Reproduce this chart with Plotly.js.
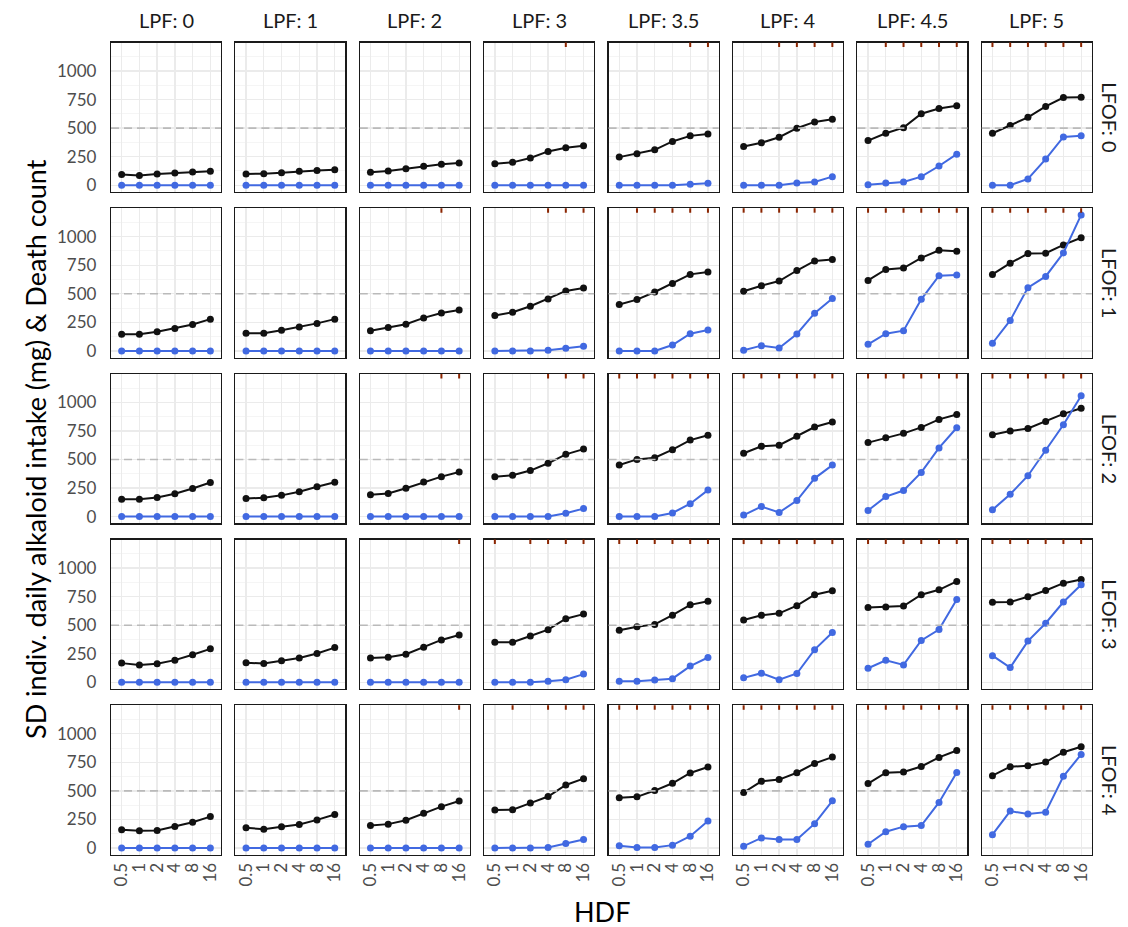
<!DOCTYPE html>
<html>
<head>
<meta charset="utf-8">
<script src="https://cdn.plot.ly/plotly-3.0.1.min.js"></script>
<style>html,body{margin:0;padding:0;background:#fff;}#chart{width:1128px;height:927px;}</style>
</head>
<body>
<div id="chart"></div>
<script>
// ---- Data ----
const HDF = ["0.5","1","2","4","8","16"];
const LPF = ["0","1","2","3","3.5","4","4.5","5"];
const LFOF = ["0","1","2","3","4"];
const REF_LINE = 500;

// SD individual daily alkaloid intake (black), one row of 6 HDF values per LPF column
const sdIntake_LFOF0 = [
  [93,84,99,107,116,122],
  [99,101,110,122,128,136],
  [113,125,145,165,183,194],
  [188,200,238,296,328,345],
  [246,275,310,383,432,449],
  [339,371,420,499,554,577],
  [391,455,504,626,672,696],
  [455,522,594,690,768,771]
];
const sdIntake_LFOF1 = [
  [145,145,168,197,232,278],
  [154,154,180,209,241,278],
  [177,206,234,289,332,359],
  [310,339,391,455,525,551],
  [406,449,516,591,670,690],
  [522,571,612,704,788,800],
  [617,713,725,814,881,872],
  [670,768,852,855,928,991]
];
const sdIntake_LFOF2 = [
  [151,151,168,200,246,299],
  [159,165,186,217,261,301],
  [191,202,249,302,350,390],
  [348,362,403,467,545,591],
  [452,501,516,586,670,713],
  [555,616,625,703,784,828],
  [648,691,729,781,851,894],
  [717,749,772,833,900,949]
];
const sdIntake_LFOF3 = [
  [168,151,162,194,241,293],
  [171,165,188,212,252,304],
  [212,220,246,307,371,414],
  [351,351,406,461,557,597],
  [455,486,507,588,678,710],
  [546,587,604,671,767,801],
  [654,659,668,767,810,883],
  [700,703,749,804,868,900]
];
const sdIntake_LFOF4 = [
  [159,151,154,188,226,275],
  [177,165,186,206,246,293],
  [197,209,243,304,362,412],
  [332,335,393,451,552,607],
  [439,448,503,567,657,709],
  [486,584,599,659,741,796],
  [564,659,665,714,793,854],
  [633,712,720,752,839,886]
];

// Death count (blue)
const deaths_LFOF0 = [
  [0,0,0,0,0,0],
  [0,0,0,0,0,0],
  [0,0,0,0,0,0],
  [0,0,0,0,0,0],
  [0,0,0,0,9,17],
  [0,0,0,20,29,75],
  [5,20,29,75,168,272],
  [0,0,55,229,423,432]
];
const deaths_LFOF1 = [
  [0,0,0,0,0,0],
  [0,0,0,0,0,0],
  [0,0,0,0,0,0],
  [0,0,0,6,23,41],
  [0,0,0,52,151,183],
  [5,46,26,148,330,458],
  [58,151,177,452,658,664],
  [67,267,554,652,858,1191]
];
const deaths_LFOF2 = [
  [0,0,0,0,0,0],
  [0,0,0,0,0,0],
  [0,0,0,0,0,0],
  [0,0,0,0,29,70],
  [0,0,0,32,113,232],
  [13,88,36,141,335,451],
  [54,175,228,387,601,778],
  [59,196,358,581,804,1059]
];
const deaths_LFOF3 = [
  [0,0,0,0,0,0],
  [0,0,0,0,0,0],
  [0,0,0,0,0,0],
  [0,0,0,9,23,72],
  [9,9,20,32,142,217],
  [39,80,22,77,286,436],
  [123,193,152,367,462,726],
  [233,129,361,517,703,854]
];
const deaths_LFOF4 = [
  [0,0,0,0,0,0],
  [0,0,0,0,0,0],
  [0,0,0,0,0,0],
  [0,0,0,4,39,74],
  [19,4,4,25,103,236],
  [16,88,74,74,213,413],
  [33,143,187,196,399,662],
  [117,323,297,314,628,819]
];

// Rug marks (HDF levels flagged at top of each panel)
const rug_LFOF0 = [[],[],[],["8"],["8","16"],["2","4","8","16"],["1","2","4","8","16"],["0.5","1","2","4","8","16"]];
const rug_LFOF1 = [[],[],["8"],["4","8","16"],["1","2","4","8","16"],["0.5","1","2","4","8","16"],["0.5","1","2","4","8","16"],["0.5","1","2","4","8","16"]];
const rug_LFOF2 = [[],[],["8","16"],["4","8","16"],["0.5","1","2","4","8","16"],["0.5","1","2","4","8","16"],["0.5","1","2","4","8","16"],["0.5","1","2","4","8","16"]];
const rug_LFOF3 = [[],[],["16"],["0.5","2","4","8","16"],["0.5","1","2","4","8","16"],["0.5","1","2","4","8","16"],["0.5","1","2","4","8","16"],["0.5","1","2","4","8","16"]];
const rug_LFOF4 = [[],[],["16"],["1","4","8","16"],["0.5","1","2","4","8","16"],["0.5","1","2","4","8","16"],["0.5","1","2","4","8","16"],["0.5","1","2","4","8","16"]];

const sdRows = [sdIntake_LFOF0, sdIntake_LFOF1, sdIntake_LFOF2, sdIntake_LFOF3, sdIntake_LFOF4];
const deathRows = [deaths_LFOF0, deaths_LFOF1, deaths_LFOF2, deaths_LFOF3, deaths_LFOF4];
const rugRows = [rug_LFOF0, rug_LFOF1, rug_LFOF2, rug_LFOF3, rug_LFOF4];

// ---- Layout geometry (pixels) ----
const W = 1128, H = 927;
const colLeft = 111, colStep = 124.4, panelW = 110;
const rowTop = 42.5, rowStep = 165.7, panelH = 149.5;
const FONT = "Lato, 'Open Sans', sans-serif";
const BLACK = "#111111", BLUE = "#4169E1", RUG = "#8B2500";

const traces = [];
const shapes = [];
const annotations = [];
const layout = {
  width: W, height: H,
  margin: {l:0, r:0, t:0, b:0},
  paper_bgcolor: "#ffffff",
  plot_bgcolor: "#ffffff",
  showlegend: false,
  font: {family: FONT, color: "#000"}
};

for (let r = 0; r < LFOF.length; r++) {
  for (let c = 0; c < LPF.length; c++) {
    const k = r * LPF.length + c + 1;
    const xa = "x" + (k === 1 ? "" : k);
    const ya = "y" + (k === 1 ? "" : k);
    const xKey = "xaxis" + (k === 1 ? "" : k);
    const yKey = "yaxis" + (k === 1 ? "" : k);
    const x0 = (colLeft + colStep * c) / W;
    const x1 = (colLeft + colStep * c + panelW) / W;
    const yTopPx = rowTop + rowStep * r;
    const y1 = 1 - yTopPx / H;
    const y0 = 1 - (yTopPx + panelH) / H;

    layout[xKey] = {
      domain: [x0, x1], anchor: ya, type: "category",
      categoryorder: "array", categoryarray: HDF,
      tickmode: "array", tickvals: HDF, ticktext: HDF,
      range: [-0.6, 5.6],
      showgrid: true, gridcolor: "#ebebeb", gridwidth: 1.3,
      zeroline: false,
      showline: true, mirror: true, linecolor: "#1a1a1a", linewidth: 1.2,
      ticks: "", tickangle: -90,
      showticklabels: r === LFOF.length - 1,
      tickfont: {family: FONT, size: 17, color: "#4d4d4d"},
      fixedrange: true
    };
    layout[yKey] = {
      domain: [y0, y1], anchor: xa,
      range: [-59.5, 1249.5],
      tickmode: "array", tickvals: [0,250,500,750,1000], ticktext: ["0","250","500","750","1000"],
      showgrid: true, gridcolor: "#ebebeb", gridwidth: 1.3,
      minor: {tickmode: "array", tickvals: [125,375,625,875,1125], showgrid: true, gridcolor: "#f3f3f3", gridwidth: 0.8},
      zeroline: false,
      showline: true, mirror: true, linecolor: "#1a1a1a", linewidth: 1.2,
      ticks: "",
      showticklabels: c === 0,
      tickfont: {family: FONT, size: 17, color: "#4d4d4d"},
      ticklabelstandoff: 10,
      fixedrange: true
    };

    // reference dashed line
    shapes.push({
      type: "line", xref: xa + " domain", yref: ya,
      x0: 0, x1: 1, y0: REF_LINE, y1: REF_LINE,
      line: {color: "#bababa", width: 1.6, dash: "8px,5px"},
      layer: "above"
    });

    traces.push({
      type: "scatter", mode: "lines+markers",
      x: HDF, y: sdRows[r][c], xaxis: xa, yaxis: ya,
      line: {color: BLACK, width: 2},
      marker: {color: BLACK, size: 7},
      hoverinfo: "x+y", cliponaxis: false
    });
    traces.push({
      type: "scatter", mode: "lines+markers",
      x: HDF, y: deathRows[r][c], xaxis: xa, yaxis: ya,
      line: {color: BLUE, width: 2},
      marker: {color: BLUE, size: 7},
      hoverinfo: "x+y", cliponaxis: false
    });

    // rug marks at top
    rugRows[r][c].forEach(lbl => {
      const xi = HDF.indexOf(lbl);
      shapes.push({
        type: "line", xref: xa, yref: ya + " domain",
        x0: xi, x1: xi, y0: 0.97, y1: 1,
        line: {color: RUG, width: 2},
        layer: "above"
      });
    });
  }
}

// Column strip labels
LPF.forEach((v, c) => {
  annotations.push({
    text: "LPF: " + v, xref: "paper", yref: "paper",
    x: (colLeft + colStep * c + panelW / 2) / W, y: 1 - 20 / H,
    xanchor: "center", yanchor: "middle", showarrow: false,
    font: {family: FONT, size: 20, color: "#1a1a1a"}
  });
});
// Row strip labels
LFOF.forEach((v, r) => {
  annotations.push({
    text: "LFOF: " + v, xref: "paper", yref: "paper",
    x: 1110 / W, y: 1 - (rowTop + rowStep * r + panelH / 2) / H,
    xanchor: "center", yanchor: "middle", showarrow: false, textangle: 90,
    font: {family: FONT, size: 20, color: "#1a1a1a"}
  });
});
// Axis titles
annotations.push({
  text: "SD indiv. daily alkaloid intake (mg) & Death count", xref: "paper", yref: "paper",
  x: 35 / W, y: 1 - 449 / H, xanchor: "center", yanchor: "middle",
  showarrow: false, textangle: -90,
  font: {family: FONT, size: 27, color: "#000"}
});
annotations.push({
  text: "HDF", xref: "paper", yref: "paper",
  x: 601.5 / W, y: 1 - 911 / H, xanchor: "center", yanchor: "middle",
  showarrow: false,
  font: {family: FONT, size: 27, color: "#000"}
});

layout.shapes = shapes;
layout.annotations = annotations;

Plotly.newPlot("chart", traces, layout, {staticPlot: true, displayModeBar: false});
</script>
</body>
</html>
